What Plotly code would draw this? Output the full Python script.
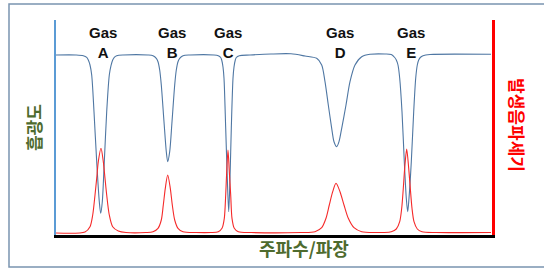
import plotly.graph_objects as go

# Absorbance (blue) spectrum (arbitrary units)
abs_x = [0, 20, 27.3, 30.7, 32.3, 34, 35.7, 38, 40.7, 43.3, 44.7, 46.3, 48.3, 50.7, 53.3, 55, 56.7, 58.3, 60.7, 67,
         92, 97, 100.3, 102, 103.7, 105.3, 108, 110.3, 111.7, 113.7, 116, 118.7, 120.3, 122, 123.7, 127, 134,
         158, 162.3, 164.7, 165.7, 167, 168, 169.7, 171.3, 172.7, 174, 175.3, 177, 178, 179.3, 180.3, 183.3, 194,
         215, 235, 249, 260.7, 265.7, 269, 272.3, 275.7, 278, 280.7, 283, 285.7, 290, 294, 299, 305.7, 314, 329,
         335.3, 338.7, 340.3, 342, 343.7, 346, 348.3, 350.3, 351.7, 353, 355.3, 357.7, 359.7, 361.3, 362.7, 364.3, 367, 374, 435]
abs_y = [180, 180, 179.3, 177.7, 175, 170, 160, 123.3, 73.3, 33.3, 21.7, 33.3, 73.3, 123.3, 160, 169.3, 175, 177.7, 179.3, 180,
         180, 179.3, 176.7, 173.3, 165, 150, 113.3, 83.3, 73.3, 83.3, 113.3, 150, 165, 173.3, 176.7, 179.3, 180,
         180, 179.3, 177.5, 175, 168, 156.7, 106.7, 56.7, 23.3, 56.7, 106.7, 156.7, 168, 175, 177.5, 179.3, 180,
         181, 181.2, 179, 176.7, 170, 153.3, 130, 106.7, 93.3, 88.3, 93.3, 106.7, 130, 153.3, 170, 178.3, 180.7, 181,
         180.5, 177.5, 175, 170, 156.7, 123.3, 73.3, 36.7, 23.3, 36.7, 73.3, 123.3, 156.7, 170, 175, 177.5, 179.3, 180.5, 180.7]

# Photoacoustic signal (red) (arbitrary units)
pa_x = [0, 29, 34, 36.7, 39, 40.7, 42.3, 45, 47.3, 49, 50.7, 53.3, 56.7, 62.3, 70,
        90, 97, 102, 105.3, 107.3, 109.3, 111.7, 114.3, 116.3, 118.7, 122, 127, 140,
        155, 162.3, 166, 168.3, 169.7, 170.7, 172, 173.3, 174.7, 176, 178.3, 182.3, 195,
        245, 259, 265.7, 270, 273.3, 276.7, 280, 284, 288, 292.3, 298, 305.7, 320,
        328, 335.3, 340.3, 343.7, 345.7, 347.3, 348.7, 350.7, 352.7, 354.3, 356, 358, 361.3, 366, 380, 435]
pa_y = [2, 3, 8.3, 20, 40, 56.7, 73.3, 86.7, 73.3, 56.7, 40, 20, 8.3, 4, 2.5,
        2.5, 3.3, 6.7, 15, 30, 46.7, 60, 46.7, 30, 15, 6.7, 3.3, 2.5,
        2.5, 3.3, 6.7, 16.7, 40, 63.3, 85, 63.3, 40, 16.7, 6.7, 3.3, 2.5,
        2.5, 3.3, 7.3, 16.7, 30, 43.3, 51.7, 43.3, 30, 16.7, 7.3, 3.3, 2.5,
        2.5, 3.3, 6, 13.3, 26.7, 46.7, 66.7, 86, 66.7, 46.7, 26.7, 13.3, 6, 3.3, 2.5, 2.5]

gas_names = ["A", "B", "C", "D", "E"]
gas_centers = [46.5, 115.5, 172, 284, 355]

x_title = "주파수/파장"
y_title = "흡광도"
y2_title = "발생음파세기"

GREEN = "#4E6B2E"
KFONT = "Noto Sans CJK KR"

fig = go.Figure()
fig.add_trace(go.Scatter(x=abs_x, y=abs_y, mode="lines",
                         line=dict(color="#4F77A3", width=1.1, shape="spline", smoothing=0.8),
                         hoverinfo="skip", showlegend=False))
fig.add_trace(go.Scatter(x=pa_x, y=pa_y, mode="lines", yaxis="y2",
                         line=dict(color="#F52A2A", width=1.1, shape="spline", smoothing=0.8),
                         hoverinfo="skip", showlegend=False))

for name, cx in zip(gas_names, gas_centers):
    fig.add_annotation(x=cx, y=192.5, xref="x", yref="y", text="<b>Gas<br>" + name + "</b>",
                       xanchor="center", yanchor="middle",
                       showarrow=False, font=dict(family="Liberation Sans", size=15, color="#111111"),
                       align="center")

fig.add_annotation(x=-0.0528, y=0.502, xref="paper", yref="paper", text="<b>" + y_title + "</b>",
                   xanchor="center", yanchor="middle",
                   textangle=-90, showarrow=False, font=dict(family=KFONT, size=17, color=GREEN))
fig.add_annotation(x=1.057, y=0.512, xref="paper", yref="paper", text="<b>" + y2_title + "</b>",
                   xanchor="center", yanchor="middle",
                   textangle=90, showarrow=False, font=dict(family=KFONT, size=17, color="#FF0000"))
fig.add_annotation(x=0.569, y=-0.0605, xref="paper", yref="paper", text="<b>" + x_title + "</b>",
                   xanchor="center", yanchor="middle",
                   showarrow=False, font=dict(family=KFONT, size=18, color=GREEN))

fig.add_shape(type="rect", xref="paper", yref="paper", x0=-0.1078, x1=1.14, y0=-0.1488, y1=1.0744,
              line=dict(color="#7A94B0", width=1.5), fillcolor="rgba(0,0,0,0)")

fig.update_layout(
    width=544, height=269,
    margin=dict(l=56, r=52, t=20, b=34),
    paper_bgcolor="white", plot_bgcolor="white",
    xaxis=dict(range=[0, 436], showgrid=False, zeroline=False, showticklabels=False, ticks="",
               showline=True, linecolor="black", linewidth=2.5),
    yaxis=dict(range=[0, 215], showgrid=False, zeroline=False, showticklabels=False, ticks="",
               showline=True, linecolor="#5B9BD5", linewidth=1.5),
    yaxis2=dict(range=[0, 215], overlaying="y", side="right", showgrid=False, zeroline=False,
                showticklabels=False, ticks="", showline=True, linecolor="#FF0000", linewidth=3),
)

fig.write_html("out.html", config={"displayModeBar": False},
               post_script="document.body.style.margin='0';document.body.style.overflow='hidden';")
